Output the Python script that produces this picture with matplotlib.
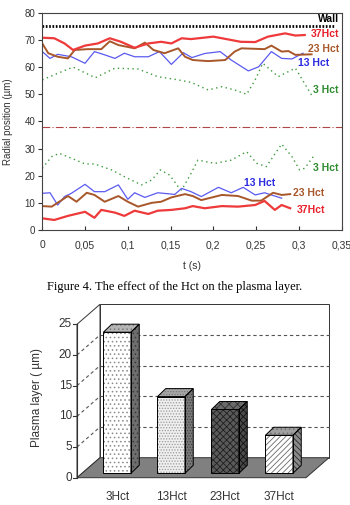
import matplotlib
matplotlib.use("Agg")
import matplotlib.pyplot as plt
import numpy as np

plt.rcParams['font.family'] = ['Liberation Sans', 'DejaVu Sans']
plt.rcParams['hatch.linewidth'] = 0.6

# ---------------- data: top chart ----------------
t_37_top = [0, 0.014, 0.026, 0.036, 0.05, 0.065, 0.079, 0.092, 0.108, 0.124, 0.139, 0.151, 0.163, 0.174,
            0.2, 0.217, 0.232, 0.249, 0.264, 0.284, 0.296, 0.307]
v_37_top = [70.8, 70.6, 68.7, 66.3, 67.9, 68.7, 70.6, 69.3, 67.1, 68.7, 69.3, 68.7, 70.6, 70.3,
            71.2, 70.2, 69.3, 69.2, 71.2, 72.4, 71.6, 71.8]

t_23_top = [0, 0.007, 0.018, 0.03, 0.038, 0.053, 0.069, 0.079, 0.089, 0.108, 0.12, 0.13, 0.143, 0.159,
            0.167, 0.176, 0.194, 0.214, 0.225, 0.233, 0.26, 0.268, 0.28, 0.288, 0.296, 0.315]
v_23_top = [68.7, 65.1, 63.8, 63.2, 66.3, 66.6, 66.6, 69.5, 68.1, 66.9, 69.0, 66.3, 65.1, 66.9,
            63.8, 62.6, 62.2, 62.6, 65.7, 66.9, 66.6, 67.9, 65.7, 65.9, 64.5, 64.7]

t_13_top = [0, 0.009, 0.018, 0.034, 0.05, 0.061, 0.073, 0.085, 0.096, 0.108, 0.124, 0.137, 0.151,
            0.165, 0.175, 0.19, 0.208, 0.221, 0.241, 0.253, 0.268, 0.28, 0.292, 0.305]
v_13_top = [65.7, 63.2, 64.7, 63.8, 61.4, 65.7, 64.5, 63.2, 65.1, 63.8, 63.8, 65.7, 61.0,
            65.3, 63.5, 65.0, 65.7, 62.6, 58.6, 60.1, 65.7, 63.2, 63.0, 65.1]

t_3_top = [0, 0.018, 0.036, 0.062, 0.085, 0.112, 0.135, 0.159, 0.174, 0.194, 0.21, 0.225, 0.239,
           0.249, 0.258, 0.276, 0.296, 0.315]
v_3_top = [55.3, 57.7, 60.0, 56.1, 59.6, 59.3, 56.5, 55.3, 54.4, 51.6, 52.8, 51.6, 50.0,
           55.3, 61.4, 56.5, 59.6, 49.7]

t_3_bot = [0, 0.011, 0.02, 0.034, 0.05, 0.061, 0.081, 0.1, 0.116, 0.128, 0.138, 0.149, 0.159, 0.163,
           0.173, 0.182, 0.202, 0.221, 0.239, 0.251, 0.262, 0.28, 0.292, 0.301, 0.307, 0.317]
v_3_bot = [22.8, 27.1, 28.3, 26.5, 24.4, 24.4, 22.2, 19.1, 16.7, 18.5, 22.2, 20.3, 16.0, 14.8,
           20.3, 25.8, 24.6, 25.8, 28.9, 24.6, 23.4, 31.7, 27.1, 22.2, 22.8, 27.1]

t_13_bot = [0, 0.009, 0.018, 0.026, 0.034, 0.05, 0.061, 0.073, 0.089, 0.1, 0.108, 0.12, 0.135, 0.155,
            0.163, 0.174, 0.186, 0.206, 0.221, 0.235, 0.249, 0.26, 0.28]
v_13_bot = [13.6, 13.8, 9.3, 12.4, 13.6, 16.9, 14.2, 14.2, 16.7, 11.4, 13.8, 12.1, 13.8, 13.2,
            15.4, 14.2, 12.4, 15.8, 13.8, 15.8, 13.0, 13.8, 11.8]

t_23_bot = [0, 0.011, 0.03, 0.04, 0.052, 0.061, 0.073, 0.089, 0.1, 0.112, 0.128, 0.139, 0.151, 0.167,
            0.176, 0.186, 0.21, 0.229, 0.245, 0.256, 0.27, 0.28, 0.29]
v_23_bot = [8.9, 8.7, 12.6, 10.5, 13.8, 13.0, 10.5, 12.6, 10.5, 8.7, 10.1, 10.5, 12.1, 13.3,
            12.6, 11.1, 13.0, 12.6, 10.9, 10.9, 13.8, 13.0, 13.3]

t_37_bot = [0, 0.014, 0.03, 0.05, 0.061, 0.069, 0.085, 0.096, 0.108, 0.124, 0.135, 0.151, 0.167,
            0.176, 0.19, 0.21, 0.229, 0.249, 0.26, 0.272, 0.28, 0.29]
v_37_bot = [4.4, 3.8, 5.3, 6.8, 4.6, 7.5, 6.5, 5.3, 7.2, 6.0, 7.2, 7.5, 8.1,
            8.9, 8.1, 8.9, 8.7, 9.3, 10.8, 7.5, 9.3, 8.1]

wall_level = 75
center_level = 38

x_ticks = [0, 0.05, 0.1, 0.15, 0.2, 0.25, 0.3, 0.35]
x_ticklabels = ['0', '0,05', '0,1', '0,15', '0,2', '0,25', '0,3', '0,35']
y_ticks = [0, 10, 20, 30, 40, 50, 60, 70, 80]

# ---------------- data: bottom chart ----------------
categories = ['3Hct', '13Hct', '23Hct', '37Hct']
plasma_layer = [23.0, 12.5, 10.4, 6.2]
bar_y_ticks = [0, 5, 10, 15, 20, 25]

# ---------------- figure ----------------
W, H = 350, 505
fig = plt.figure(figsize=(W / 100, H / 100), dpi=100)

# top axes
l, r, tp, bt = 42.3, 341.5, 12.7, 230.3
ax = fig.add_axes([l / W, 1 - bt / H, (r - l) / W, (bt - tp) / H])
ax.set_xlim(0, 0.35)
ax.set_ylim(0, 80)

c_red = '#ee3a3a'
c_brown = '#a8572a'
c_blue = '#5a5af0'
c_green = '#3c9a3c'

ax.plot([0, 0.341], [wall_level, wall_level], color='black', lw=2.0, ls=(0, (0.6, 0.6)))
ax.axhline(center_level, color='#b04545', lw=0.8, ls=(0, (7, 2, 1, 2)))

ax.plot(t_3_top, v_3_top, color=c_green, lw=1.0, ls=(0, (1, 2.5)))
ax.plot(t_3_bot, v_3_bot, color=c_green, lw=1.0, ls=(0, (1, 2.5)))
ax.plot(t_13_top, v_13_top, color=c_blue, lw=0.9)
ax.plot(t_13_bot, v_13_bot, color=c_blue, lw=0.9)
ax.plot(t_23_top, v_23_top, color=c_brown, lw=1.4)
ax.plot(t_23_bot, v_23_bot, color=c_brown, lw=1.4)
ax.plot(t_37_top, v_37_top, color=c_red, lw=1.6)
ax.plot(t_37_bot, v_37_bot, color=c_red, lw=1.6)

lab_kw = dict(fontsize=7.5, fontweight='bold', va='center', ha='right')
ax.text(0.347, 77.5, 'Wall', color='black', **lab_kw)
ax.text(0.347, 72.0, '37Hct', color='#e8202a', **lab_kw)
ax.text(0.347, 66.8, '23 Hct', color=c_brown, **lab_kw)
ax.text(0.336, 61.4, '13 Hct', color='#2a2ae0', **lab_kw)
ax.text(0.347, 51.4, '3 Hct', color='#2e8b2e', **lab_kw)
ax.text(0.347, 23.0, '3 Hct', color='#2e8b2e', **lab_kw)
ax.text(0.272, 17.3, '13 Hct', color='#2a2ae0', **lab_kw)
ax.text(0.330, 13.6, '23 Hct', color=c_brown, **lab_kw)
ax.text(0.331, 7.3, '37Hct', color='#e8202a', **lab_kw)

ax.set_xticks(x_ticks)
ax.set_xticklabels(x_ticklabels)
ax.set_yticks(y_ticks)
ax.tick_params(axis='x', direction='in', length=3, pad=7, labelsize=7.5, colors='#333333')
ax.tick_params(axis='y', direction='out', length=3, pad=2, labelsize=7, colors='#333333')
for s in ax.spines.values():
    s.set_color('#444444')
    s.set_linewidth(0.8)
ax.set_xlabel('t (s)', fontsize=7.5, color='#333333')
ax.xaxis.set_label_coords(0.5, -(261 - bt) / (bt - tp))
ax.set_ylabel('Radial position (µm)', fontsize=7, color='#333333')
ax.yaxis.set_label_coords(-(l - 13.5) / (r - l), 0.5)

fig.text(0.5, 1 - 287 / H, 'Figure 4. The effect of the Hct on the plasma layer.',
         family=['Liberation Serif', 'DejaVu Serif'], fontsize=9, ha='center', va='center')

# ---------------- bottom pseudo-3D bar chart ----------------
# mapping: category i centre at px 117.2 + 54*i ; value v at px 477.7 - 6.136*v
px_per_cat = 54.0
cx0 = 117.2
px_per_val = 6.136
vy0 = 477.7
ax_l, ax_r, ax_t, ax_b = 0.0, 350.0, 298.0, 505.0
ax2 = fig.add_axes([ax_l / W, 1 - ax_b / H, (ax_r - ax_l) / W, (ax_b - ax_t) / H])
ax2.set_xlim((ax_l - cx0) / px_per_cat, (ax_r - cx0) / px_per_cat)
ax2.set_ylim((vy0 - ax_b) / px_per_val, (vy0 - ax_t) / px_per_val)
ax2.axis('off')

xa = (77 - cx0) / px_per_cat          # front axis x
D = 23 / px_per_cat                   # chart depth (x)
Dv = 20 / px_per_val                  # chart depth (y)
xw = (329 - cx0) / px_per_cat         # right edge of back wall
xr = xw - D                           # front right edge of floor
vmax = 25
edge = '#333333'

# left wall and back wall
ax2.fill([xa, xa, xa + D, xa + D], [0, vmax, vmax + Dv, Dv], facecolor='white', edgecolor=edge, lw=0.7, zorder=1)
ax2.fill([xa + D, xw, xw, xa + D], [Dv, Dv, vmax + Dv, vmax + Dv], facecolor='white', edgecolor=edge, lw=0.7, zorder=1)
# floor
ax2.fill([xa, xr, xw, xa + D], [0, 0, Dv, Dv], facecolor='#808080', edgecolor=edge, lw=0.7, zorder=2)
# gridlines
for v in bar_y_ticks[1:-1]:
    ax2.plot([xa, xa + D], [v, v + Dv], color='#555555', lw=0.8, ls=(0, (3, 2.5)), zorder=1.5)
    ax2.plot([xa + D, xw], [v + Dv, v + Dv], color='#555555', lw=0.8, ls=(0, (3, 2.5)), zorder=1.5)
# front axis + ticks
ax2.plot([xa, xa], [0, vmax], color=edge, lw=0.8, zorder=3)
tick_len = 4 / px_per_cat
for v in bar_y_ticks:
    ax2.plot([xa - tick_len, xa], [v, v], color=edge, lw=0.8, zorder=3)
    ax2.text(xa - 5 / px_per_cat, v, str(v), ha='right', va='center', fontsize=8.5, color='#333333')
ax2.text((37 - cx0) / px_per_cat, 13.0, 'Plasma layer ( µm)', rotation=90, ha='center', va='center',
         fontsize=8.5, color='#333333')

# bars
w = 27.5 / px_per_cat
d = 8.3 / px_per_cat
dv = 8.0 / px_per_val
base = 4.4 / px_per_val
styles = [
    dict(ff='white', fh='....', fc='#8a8a8a', sf='#6e6e6e', sh='....', sc='#3a3a3a', tf='#b5b5b5', th='....', tc='#7a7a7a'),
    dict(ff='#efefef', fh='......', fc='#9a9a9a', sf='#7a7a7a', sh='......', sc='#404040', tf='#a8a8a8', th='......', tc='#777777'),
    dict(ff='#5a5a5a', fh='xxxxx', fc='#202020', sf='#4a4a4a', sh='xxxxx', sc='#111111', tf='#6a6a6a', th='xxxx', tc='#333333'),
    dict(ff='white', fh='//////', fc='#6a6a6a', sf='#8a8a8a', sh='\\\\\\\\\\\\', sc='#2a2a2a', tf='#a0a0a0', th='....', tc='#707070'),
]
xs = np.arange(len(categories))
for i, (x, val, st) in enumerate(zip(xs, plasma_layer, styles)):
    ax2.bar(x, val, width=w, bottom=base, color=st['ff'], hatch=st['fh'], edgecolor=st['fc'], lw=0, zorder=5)
    ax2.bar(x, val, width=w, bottom=base, fill=False, edgecolor='black', lw=0.7, zorder=6)
    sx = [x + w / 2, x + w / 2 + d, x + w / 2 + d, x + w / 2]
    sy = [base, base + dv, base + val + dv, base + val]
    ax2.fill(sx, sy, facecolor=st['sf'], hatch=st['sh'], edgecolor=st['sc'], lw=0, zorder=5)
    ax2.fill(sx, sy, fill=False, edgecolor='black', lw=0.7, zorder=6)
    tx = [x - w / 2, x + w / 2, x + w / 2 + d, x - w / 2 + d]
    ty = [base + val, base + val, base + val + dv, base + val + dv]
    ax2.fill(tx, ty, facecolor=st['tf'], hatch=st['th'], edgecolor=st['tc'], lw=0, zorder=5)
    ax2.fill(tx, ty, fill=False, edgecolor='black', lw=0.7, zorder=6)
    ax2.text(x, (vy0 - 497) / px_per_val, categories[i], ha='center', va='center', fontsize=8.5, color='#333333')

fig.savefig('out.png', dpi=100)
